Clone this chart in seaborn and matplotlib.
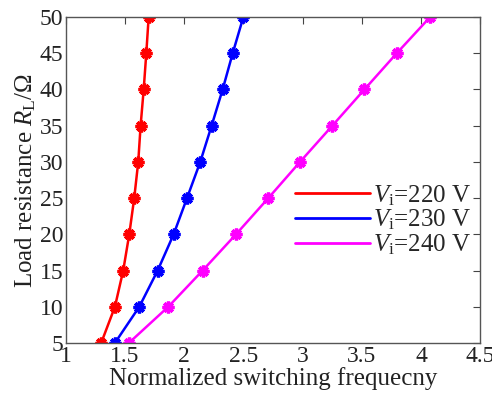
import numpy as np
import pandas as pd
import matplotlib
matplotlib.use("Agg")
import matplotlib.pyplot as plt
from matplotlib.lines import Line2D
import seaborn as sns

# Load resistance (ohm) for each curve
resistance = [5, 10, 15, 20, 25, 30, 35, 40, 45, 50]
# Normalized switching frequency per input voltage
freq_220 = [1.298, 1.414, 1.484, 1.535, 1.577, 1.611, 1.631, 1.657, 1.679, 1.699]
freq_230 = [1.414, 1.620, 1.775, 1.910, 2.023, 2.135, 2.231, 2.324, 2.409, 2.499]
freq_240 = [1.532, 1.865, 2.155, 2.437, 2.710, 2.978, 3.251, 3.522, 3.795, 4.077]
series_labels = [r"$V_\mathrm{i}$=220 V", r"$V_\mathrm{i}$=230 V", r"$V_\mathrm{i}$=240 V"]
colors = ["#ff0000", "#0000ff", "#ff00ff"]
x_ticks = [1, 1.5, 2, 2.5, 3, 3.5, 4, 4.5]
y_ticks = [5, 10, 15, 20, 25, 30, 35, 40, 45, 50]

sns.set_style("white")
plt.rcParams["font.family"] = ["Liberation Serif", "DejaVu Serif"]
plt.rcParams["mathtext.fontset"] = "custom"
plt.rcParams["mathtext.rm"] = "Liberation Serif"
plt.rcParams["mathtext.it"] = "Liberation Serif:italic"

frames = []
for lab, f in zip(series_labels, [freq_220, freq_230, freq_240]):
    frames.append(pd.DataFrame({"freq": f, "R": resistance, "series": lab}))
df = pd.concat(frames, ignore_index=True)

fig = plt.figure(figsize=(4.92, 3.96), dpi=100)
ax = fig.add_axes([0.134, 0.134, 0.842, 0.823])

sns.lineplot(data=df, x="freq", y="R", hue="series", style="series",
             palette=colors, markers=[(8, 2, 0)] * 3, dashes=False,
             estimator=None, sort=False, linewidth=1.8, markersize=8.5,
             markeredgewidth=2.4, ax=ax, legend=False)
for ln, c in zip(ax.get_lines(), colors):
    ln.set_markeredgecolor(c)
    ln.set_markerfacecolor(c)

ax.set_xlim(1, 4.5)
ax.set_ylim(5, 50)
ax.set_xticks(x_ticks)
ax.set_xticklabels([f"{t:g}" for t in x_ticks])
ax.set_yticks(y_ticks)
ax.tick_params(direction="in", length=5, width=0.8, top=True, right=True,
               labelsize=17, colors="#444444", labelcolor="#222222", pad=2)
for s in ax.spines.values():
    s.set_color("#555555")
    s.set_linewidth(1.0)

ax.set_xlabel("Normalized switching frequecny", fontsize=18, color="#222222", labelpad=0)
ax.set_ylabel(r"Load resistance $R_\mathrm{L}$/Ω", fontsize=18, color="#222222", labelpad=1)

handles = [Line2D([0], [0], color=c, lw=2) for c in colors]
ax.legend(handles, series_labels, loc="upper left", bbox_to_anchor=(0.553, 0.49),
          frameon=False, fontsize=18, handlelength=3.0, handletextpad=0.12,
          labelspacing=0.0, borderaxespad=0, borderpad=0)

fig.savefig("out.png", dpi=100)
